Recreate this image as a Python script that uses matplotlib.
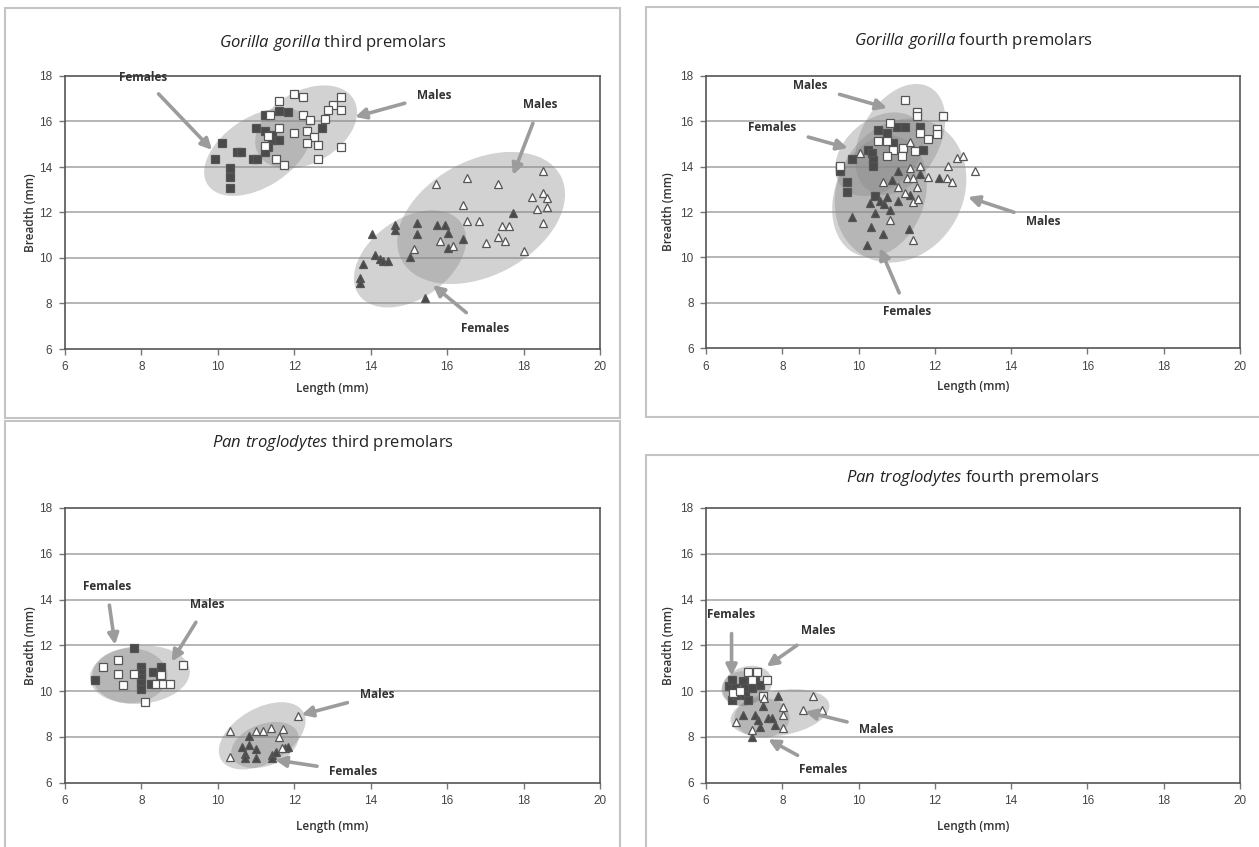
import numpy as np
import matplotlib.pyplot as plt
from matplotlib.patches import Ellipse, Rectangle
from matplotlib.transforms import ScaledTranslation

W, H = 1259, 847

# ---- data (length mm, breadth mm) ----
# Gorilla gorilla third premolars
g3_fem_sq = [(10.10, 15.07), (9.93, 14.35), (10.51, 14.67), (10.60, 14.67), (10.32, 13.94),
             (10.32, 13.55), (10.32, 13.06), (10.91, 14.35), (11.03, 14.35), (11.23, 16.29),
             (11.61, 16.47), (11.83, 16.40), (11.00, 15.70), (11.23, 15.60), (11.41, 15.41),
             (11.41, 15.19), (11.61, 15.19), (11.32, 14.89), (11.23, 14.67), (12.72, 15.70)]
g3_male_sq = [(12.00, 17.21), (12.22, 17.09), (11.61, 16.90), (13.22, 17.09), (13.02, 16.73),
              (12.89, 16.50), (13.22, 16.50), (11.37, 16.29), (12.22, 16.29), (12.41, 16.07),
              (12.80, 16.10), (11.61, 15.70), (12.00, 15.48), (12.32, 15.60), (12.52, 15.31),
              (12.32, 15.07), (12.61, 14.97), (13.22, 14.89), (11.23, 14.92), (11.51, 14.35),
              (11.74, 14.09), (12.61, 14.35), (11.32, 15.36)]
g3_fem_tri = [(14.03, 11.05), (14.64, 11.45), (14.64, 11.23), (15.22, 11.55), (15.22, 11.05),
              (15.73, 11.45), (15.95, 11.45), (16.03, 11.11), (16.42, 10.82), (15.03, 10.03),
              (16.03, 10.43), (14.11, 10.13), (14.23, 9.94), (14.33, 9.88), (14.44, 9.88),
              (13.81, 9.74), (13.72, 9.13), (13.72, 8.91), (15.42, 8.25), (17.72, 11.99)]
g3_male_tri = [(15.71, 13.25), (16.51, 13.50), (17.34, 13.25), (18.52, 13.84), (16.42, 12.33),
               (16.51, 11.63), (16.84, 11.63), (17.43, 11.42), (17.63, 11.42), (17.34, 10.94),
               (17.51, 10.75), (17.02, 10.65), (18.02, 10.32), (18.52, 12.87), (18.21, 12.67),
               (18.62, 12.62), (18.34, 12.14), (18.62, 12.23), (18.52, 11.55), (15.81, 10.76),
               (16.15, 10.54), (15.12, 10.40)]

# Gorilla gorilla fourth premolars
g4_male_sq = [(11.22, 16.94), (11.52, 16.42), (11.52, 16.23), (12.22, 16.23), (10.82, 15.94),
              (11.61, 15.50), (12.05, 15.65), (12.05, 15.44), (11.83, 15.20), (10.52, 15.13),
              (10.74, 15.13), (11.48, 14.70), (10.91, 14.73), (11.17, 14.81), (10.74, 14.47),
              (11.13, 14.47), (9.51, 14.05)]
g4_fem_sq = [(9.82, 14.32), (10.52, 15.62), (10.74, 15.47), (11.00, 15.76), (11.22, 15.76),
             (11.61, 15.76), (10.26, 14.73), (10.35, 14.59), (10.39, 14.29), (10.39, 14.03),
             (11.70, 14.73), (9.69, 13.34), (9.69, 12.90), (10.43, 12.71), (10.91, 15.06),
             (9.51, 13.80)]
g4_male_tri = [(10.04, 14.61), (11.35, 15.10), (11.35, 13.93), (11.61, 14.03), (12.57, 14.37),
               (12.73, 14.47), (12.35, 14.03), (13.05, 13.82), (11.26, 13.49), (11.44, 13.49),
               (11.83, 13.56), (12.31, 13.49), (12.44, 13.34), (10.63, 13.34), (11.04, 13.09),
               (11.52, 13.09), (11.22, 12.85), (11.44, 12.45), (11.57, 12.56), (10.82, 11.65),
               (11.44, 10.76)]
g4_fem_tri = [(11.04, 13.82), (11.61, 13.68), (12.12, 13.49), (10.87, 13.41), (10.74, 12.68),
              (10.56, 12.50), (10.67, 12.35), (10.30, 12.38), (11.04, 12.50), (11.35, 12.75),
              (10.43, 11.97), (10.82, 12.09), (9.82, 11.77), (10.32, 11.35), (10.63, 11.03),
              (11.33, 11.25), (10.21, 10.54)]

# Pan troglodytes third premolars
p3_fem_sq = [(7.81, 11.88), (6.79, 10.49), (7.99, 11.07), (8.30, 10.85), (8.52, 11.05),
             (7.99, 10.78), (7.99, 10.56), (7.99, 10.35), (7.99, 10.10), (8.25, 10.30),
             (8.49, 10.60)]
p3_male_sq = [(7.00, 11.07), (7.39, 11.37), (7.39, 10.74), (7.81, 10.75), (9.10, 11.15),
              (7.52, 10.27), (8.10, 9.50), (8.38, 10.30), (8.56, 10.30), (8.75, 10.30),
              (8.52, 10.70)]
p3_male_tri = [(12.10, 8.91), (10.32, 8.26), (10.32, 7.13), (11.00, 8.26), (11.19, 8.26),
               (11.38, 8.37), (11.71, 8.33), (11.61, 8.00), (11.67, 7.50)]
p3_fem_tri = [(10.82, 8.04), (10.62, 7.57), (10.82, 7.64), (11.00, 7.45), (10.71, 7.25),
              (10.71, 7.06), (11.00, 7.06), (11.41, 7.20), (11.41, 7.06), (11.52, 7.35),
              (11.76, 7.52), (11.84, 7.57)]

# Pan troglodytes fourth premolars
p4_fem_sq = [(6.59, 10.23), (6.67, 10.49), (6.76, 10.13), (6.67, 9.61), (6.79, 9.83),
             (6.98, 10.42), (7.02, 10.13), (7.02, 9.83), (7.11, 9.61), (7.24, 10.71),
             (7.28, 10.42), (7.42, 10.27), (7.20, 10.13)]
p4_male_sq = [(6.72, 9.90), (6.89, 9.98), (7.11, 10.85), (7.33, 10.85), (7.61, 10.49),
              (7.49, 9.76), (7.20, 10.49)]
p4_male_tri = [(6.79, 8.66), (8.81, 9.79), (8.53, 9.18), (9.03, 9.18), (8.01, 9.29),
               (8.01, 8.96), (7.52, 9.69), (8.01, 8.37), (7.20, 8.30)]
p4_fem_tri = [(7.88, 9.76), (7.50, 9.35), (6.98, 8.96), (7.28, 8.96), (7.37, 8.74),
              (7.42, 8.44), (7.63, 8.81), (7.72, 8.81), (7.81, 8.52), (7.20, 8.00)]

# sample ellipses: centre (mm), width/height (px), angle (deg, screen)
g3_ellipses = [(11.05, 14.66, 120, 70, 33), (12.31, 15.76, 110, 72, 30),
               (15.03, 9.96, 125, 80, 35), (16.89, 11.76, 180, 115, 28)]
g4_ellipses = [(11.09, 15.20, 120, 78, 60), (10.55, 14.55, 100, 70, 40),
               (11.10, 12.95, 150, 125, 60), (10.55, 12.70, 125, 90, 70)]
p3_ellipses = [(7.96, 10.71, 100, 58, 5), (7.70, 10.67, 75, 55, 0),
               (11.16, 8.04, 95, 55, 30), (11.23, 7.64, 70, 42, 20)]
p4_ellipses = [(7.07, 10.23, 52, 38, 20), (6.95, 10.10, 40, 35, 0),
               (7.94, 9.04, 100, 45, 10), (7.47, 8.83, 55, 40, 0)]

# arrow labels: text, text xy, arrow tip xy (mm)
g3_notes = [("Females", (8.04, 17.93), (9.85, 14.75)), ("Males", (15.66, 17.16), (13.59, 16.20)),
            ("Males", (18.43, 16.73), (17.72, 13.65)), ("Females", (16.99, 6.92), (15.63, 8.81))]
g4_notes = [("Males", (8.73, 17.56), (10.75, 16.59)), ("Females", (7.73, 15.75), (9.72, 14.82)),
            ("Males", (14.84, 11.56), (12.87, 12.66)), ("Females", (11.27, 7.63), (10.56, 10.41))]
p3_notes = [("Females", (7.09, 14.58), (7.31, 12.02)), ("Males", (9.71, 13.77), (8.79, 11.29)),
            ("Males", (14.16, 9.83), (12.19, 8.96)), ("Females", (13.55, 6.47), (11.50, 6.99))]
p4_notes = [("Females", (6.67, 13.34), (6.67, 10.66)), ("Males", (8.94, 12.65), (7.59, 11.07)),
            ("Males", (10.47, 8.33), (8.60, 9.10)), ("Females", (9.07, 6.58), (7.63, 7.89))]

plt.rcParams['font.family'] = ['Open Sans', 'DejaVu Sans']
plt.rcParams['mathtext.fontset'] = 'custom'
plt.rcParams['mathtext.it'] = 'Open Sans:italic'
plt.rcParams['mathtext.rm'] = 'Open Sans'

fig = plt.figure(figsize=(W / 100, H / 100), dpi=100)


def px_rect(x0, y0, x1, y1):
    # pixel box (top-left origin) -> figure fraction rect
    return [x0 / W, 1 - y1 / H, (x1 - x0) / W, (y1 - y0) / H]


def card(x0, y0, x1, y1):
    r = Rectangle((x0 / W, 1 - y1 / H), (x1 - x0) / W, (y1 - y0) / H,
                  transform=fig.transFigure, facecolor='white', edgecolor='#c4c4c4', lw=1.5, zorder=0)
    fig.add_artist(r)


def panel(box, title, title_y, sq, ellipses, notes, xlab_y, ylab_x):
    x0, y0, x1, y1 = box
    ax = fig.add_axes(px_rect(x0, y0, x1, y1))
    ax.set_xlim(6, 20)
    ax.set_ylim(6, 18)
    ax.set_xticks(np.arange(6, 21, 2))
    ax.set_yticks(np.arange(6, 19, 2))
    ax.tick_params(direction='out', length=4, width=1, color='#777', labelsize=8.5,
                   labelcolor='#444', pad=5)
    for lab in ax.get_xticklabels() + ax.get_yticklabels():
        lab.set_fontfamily('Liberation Sans')
    for s in ax.spines.values():
        s.set_color('#555')
        s.set_linewidth(1.2)
    for yv in range(8, 18, 2):
        ax.axhline(yv, color='#b0b0b0', lw=1.3, zorder=1)

    for cx, cy, w, h, a in ellipses:
        tr = fig.dpi_scale_trans + ScaledTranslation(cx, cy, ax.transData)
        ax.add_patch(Ellipse((0, 0), w / 100, h / 100, angle=a, transform=tr,
                             facecolor='#8a8a8a', edgecolor='none', alpha=0.38, zorder=2))

    fem_sq, male_sq, fem_tri, male_tri = sq
    for pts, mk, face in [(fem_sq, 's', '#4a4a4a'), (male_sq, 's', 'white'),
                          (fem_tri, '^', '#4a4a4a'), (male_tri, '^', 'white')]:
        xs = [p[0] for p in pts]
        ys = [p[1] for p in pts]
        ax.plot(xs, ys, mk, ms=5.5, mfc=face, mec='#555', mew=0.9, ls='none', zorder=3)

    for txt, xy_t, xy_a in notes:
        ax.annotate(txt, xy=xy_a, xytext=xy_t, ha='center', va='center', fontsize=8.5,
                    fontweight='bold', color='#333',
                    arrowprops=dict(arrowstyle='-|>', color='#9c9c9c', lw=2.6,
                                    mutation_scale=16, shrinkA=7, shrinkB=0), zorder=4)

    cxp = (x0 + x1) / 2
    fig.text(cxp / W, 1 - title_y / H, title, ha='center', va='center', fontsize=12, color='#222')
    fig.text(cxp / W, 1 - xlab_y / H, 'Length (mm)', ha='center', va='center', fontsize=8.5,
             fontweight='semibold', color='#333')
    fig.text(ylab_x / W, 1 - (y0 + y1) / 2 / H, 'Breadth (mm)', ha='center', va='center',
             rotation=90, fontsize=8.5, fontweight='semibold', color='#333')
    return ax


card(5, 8, 620, 418)
card(646, 7, 1262, 417)
card(5, 421, 620, 850)
card(646, 455, 1262, 850)

panel((65, 76, 600, 349), r'$\it{Gorilla\ gorilla}$ third premolars', 43,
      (g3_fem_sq, g3_male_sq, g3_fem_tri, g3_male_tri), g3_ellipses, g3_notes, 388, 30)
panel((706, 76, 1240, 348), r'$\it{Gorilla\ gorilla}$ fourth premolars', 41,
      (g4_fem_sq, g4_male_sq, g4_fem_tri, g4_male_tri), g4_ellipses, g4_notes, 386, 668)
panel((65, 508, 600, 782.5), r'$\it{Pan\ troglodytes}$ third premolars', 443,
      (p3_fem_sq, p3_male_sq, p3_fem_tri, p3_male_tri), p3_ellipses, p3_notes, 826, 30)
panel((706, 508, 1240, 782.5), r'$\it{Pan\ troglodytes}$ fourth premolars', 478,
      (p4_fem_sq, p4_male_sq, p4_fem_tri, p4_male_tri), p4_ellipses, p4_notes, 826, 668)

fig.savefig('out.png', dpi=100)
